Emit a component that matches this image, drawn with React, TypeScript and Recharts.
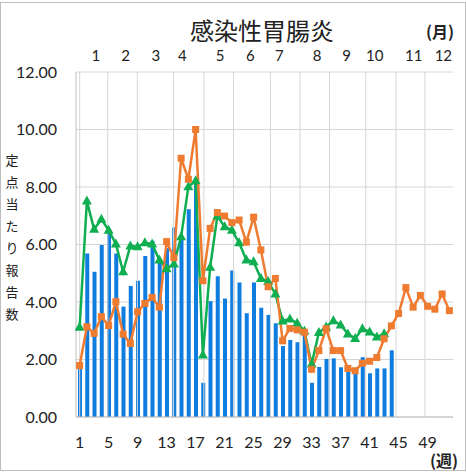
import React from 'react';
import { ComposedChart, Bar, Line, XAxis, YAxis, CartesianGrid, ReferenceLine } from 'recharts';

const weeks = [
  1, 2, 3, 4, 5, 6, 7, 8, 9, 10, 11, 12, 13, 14, 15, 16, 17, 18, 19, 20, 21, 22, 23, 24, 25, 26,
  27, 28, 29, 30, 31, 32, 33, 34, 35, 36, 37, 38, 39, 40, 41, 42, 43, 44, 45, 46, 47, 48, 49, 50, 51, 52,
];

// blue bars (weeks 1-44)
const barValues = [
  1.74, 5.69, 5.05, 5.98, 6.39, 5.69, 3.84, 4.56, 4.74, 5.6,
  6.13, 5.4, 5.87, 6.59, 6.2, 7.23, 8.2, 1.19, 4.03, 4.9,
  4.12, 5.1, 4.68, 3.61, 4.68, 3.8, 3.55, 3.26, 2.47, 2.68,
  2.6, 2.95, 1.19, 1.74, 2.02, 2.04, 1.73, 1.58, 1.51, 2.08,
  1.52, 1.69, 1.69, 2.32,
];

// green line with triangles (weeks 1-43)
const greenValues = [
  3.12, 7.51, 6.53, 6.88, 6.5, 6.02, 5.05, 5.95, 5.92, 6.06,
  6.02, 5.46, 5.16, 5.32, 6.27, 8.01, 8.22, 2.16, 5.21, 6.99,
  6.62, 6.5, 6.06, 5.46, 5.4, 4.82, 4.71, 4.28, 3.34, 3.41,
  3.26, 2.99, 1.84, 2.94, 3.13, 3.35, 3.2, 2.89, 2.73, 3.07,
  2.96, 2.78, 2.9,
];

// orange line with squares (weeks 1-52)
const orangeValues = [
  1.79, 3.14, 2.91, 3.49, 3.18, 4.01, 2.88, 2.56, 3.66, 3.95,
  4.16, 3.82, 6.1, 5.54, 9.0, 8.27, 10.0, 4.74, 6.56, 7.11,
  6.99, 6.76, 6.85, 6.08, 6.95, 5.81, 4.53, 4.82, 2.65, 3.08,
  3.03, 2.95, 1.66, 2.31, 3.07, 2.31, 2.31, 1.69, 1.61, 1.87,
  1.94, 2.07, 2.72, 3.17, 3.6, 4.5, 3.82, 4.23, 3.85, 3.75,
  4.28, 3.7,
];

const yTicks = [0, 2, 4, 6, 8, 10, 12];
const weekTickMarks = [0.5, 4.5, 8.5, 12.5, 16.5, 20.5, 24.5, 28.5, 32.5, 36.5, 40.5, 44.5, 48.5, 52.5];
const monthLabels = ['1', '2', '3', '4', '5', '6', '7', '8', '9', '10', '11', '12'];
const monthLabelWeeks = [2.7, 6.7, 10.8, 14.4, 19.5, 23.6, 27.5, 32.6, 36.6, 40.4, 45.7, 49.7];
const monthBoundaryWeeks = [0.5, 4.3, 8.3, 13.2, 17.3, 21.3, 26.3, 30.3, 34.3, 39.2, 43.3, 47.2, 52.5];

const chartData = weeks.map((w, i) => ({
  week: w,
  bar: barValues[i],
  green: greenValues[i],
  orange: orangeValues[i],
}));

const FONT = 'Lato, "Noto Sans CJK JP", sans-serif';
const JP = '"Noto Sans CJK JP", sans-serif';
const BLUE = '#0f7de0';
const GREEN = '#0fae50';
const ORANGE = '#ee7b30';
const GRID = '#d6d6d6';

const TriDot = (p: any) => {
  const { cx, cy, value, index } = p;
  if (cx == null || cy == null || value == null) return <g key={`t${index}`} />;
  return (
    <polygon
      key={`t${index}`}
      points={`${cx},${cy - 5.5} ${cx - 5},${cy + 3.5} ${cx + 5},${cy + 3.5}`}
      fill={GREEN}
    />
  );
};

const SqDot = (p: any) => {
  const { cx, cy, value, index } = p;
  if (cx == null || cy == null || value == null) return <g key={`s${index}`} />;
  return <rect key={`s${index}`} x={cx - 3.5} y={cy - 3.5} width={7} height={7} fill={ORANGE} />;
};

export default function App() {
  const yLabel = '定点当たり報告数'.split('');
  return (
    <div
      style={{
        position: 'absolute',
        left: 0,
        top: 0,
        width: 466,
        height: 472,
        background: '#fff',
        fontFamily: JP,
      }}
    >
      <div
        style={{
          position: 'absolute',
          left: 0,
          top: 2,
          width: 464,
          height: 467,
          border: '1px solid #bdbdbd',
        }}
      />
      <ComposedChart
        width={466}
        height={472}
        data={chartData}
        margin={{ top: 0, right: 13, bottom: 0, left: 0 }}
        style={{ position: 'absolute', left: 0, top: 0 }}
      >
        <CartesianGrid vertical={false} stroke={GRID} xAxisId="grid" />
        <XAxis
          xAxisId="month"
          orientation="top"
          type="number"
          domain={[0.5, 52.5]}
          allowDataOverflow
          ticks={monthLabelWeeks}
          interval={0}
          tickFormatter={(_v: any, i: number) => monthLabels[i]}
          axisLine={false}
          tickLine={false}
          tickSize={0}
          tickMargin={11}
          height={72}
          tick={{ fontSize: 15, fill: '#222', fontFamily: FONT }}
        />
        <XAxis
          xAxisId="grid"
          type="number"
          domain={[0.5, 52.5]}
          allowDataOverflow
          ticks={weekTickMarks}
          interval={0}
          tick={false}
          tickSize={6}
          tickLine={{ stroke: '#bfbfbf' }}
          axisLine={{ stroke: '#bfbfbf' }}
          height={7}
        />
        <XAxis
          xAxisId="week"
          dataKey="week"
          type="category"
          interval={3}
          axisLine={false}
          tickLine={false}
          tickSize={0}
          tickMargin={13}
          height={48}
          tick={{ fontSize: 16, fill: '#222', fontFamily: FONT }}
        />
        <YAxis
          domain={[0, 12]}
          ticks={yTicks}
          interval={0}
          tickFormatter={(v: number) => v.toFixed(2)}
          axisLine={{ stroke: '#bfbfbf' }}
          tickLine={false}
          tickSize={0}
          tickMargin={19}
          width={76}
          tick={{ fontSize: 16, fill: '#222', fontFamily: FONT }}
        />
        {monthBoundaryWeeks.map((w) => (
          <ReferenceLine key={`m${w}`} x={w} xAxisId="grid" stroke={GRID} strokeWidth={1} />
        ))}
        <Bar
          dataKey="bar"
          xAxisId="week"
          fill={BLUE}
          barSize={4}
          isAnimationActive={false}
        />
        <Line
          dataKey="green"
          xAxisId="week"
          stroke={GREEN}
          strokeWidth={2.5}
          dot={TriDot}
          activeDot={false}
          isAnimationActive={false}
        />
        <Line
          dataKey="orange"
          xAxisId="week"
          stroke={ORANGE}
          strokeWidth={2.5}
          dot={SqDot}
          activeDot={false}
          isAnimationActive={false}
        />
      </ComposedChart>
      <div
        style={{
          position: 'absolute',
          left: 190,
          top: 21,
          height: 20,
          fontSize: 24,
          lineHeight: '20px',
          color: '#222',
          whiteSpace: 'nowrap',
          fontFamily: 'Lato, "Noto Sans CJK JP", sans-serif',
        }}
      >
        感染性胃腸炎
      </div>
      <div
        style={{
          position: 'absolute',
          left: 426,
          top: 20,
          fontSize: 16,
          fontWeight: 'bold',
          lineHeight: '22px',
          color: '#222',
        }}
      >
        (月)
      </div>
      <div
        style={{
          position: 'absolute',
          left: 430,
          top: 449,
          fontSize: 16,
          fontWeight: 'bold',
          lineHeight: '22px',
          color: '#222',
        }}
      >
        (週)
      </div>
      <div style={{ position: 'absolute', left: 0, top: 149, width: 24 }}>
        {yLabel.map((c, i) => (
          <div
            key={i}
            style={{ height: 22, lineHeight: '22px', textAlign: 'center', fontSize: 13, color: '#222' }}
          >
            {c}
          </div>
        ))}
      </div>
    </div>
  );
}
